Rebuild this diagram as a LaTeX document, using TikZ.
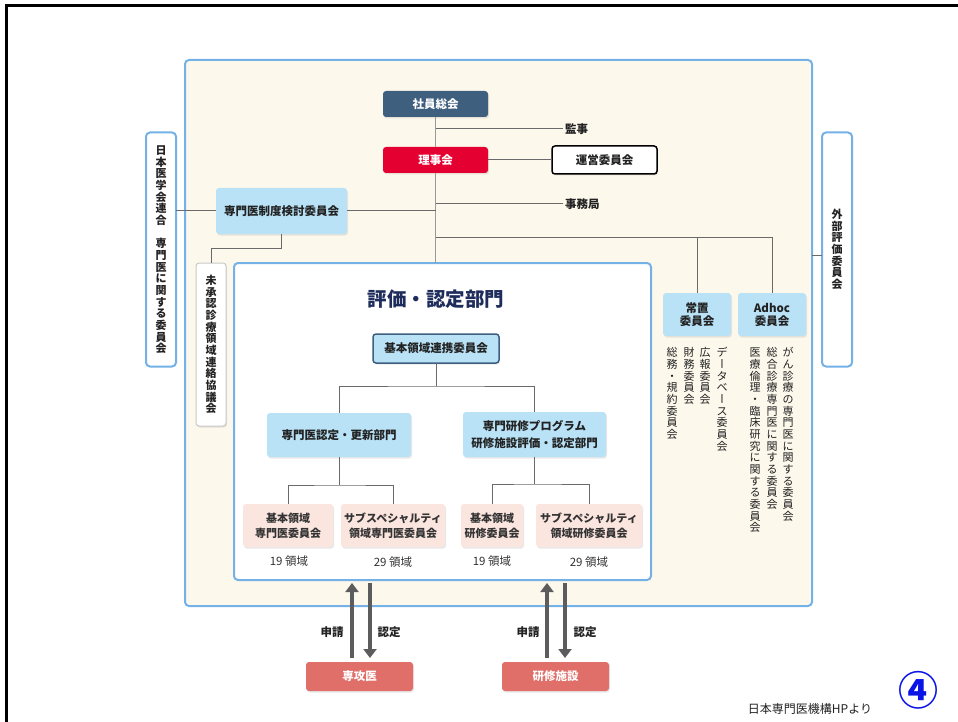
\documentclass[tikz,border=0pt]{standalone}
\usepackage{fontspec}
\setmainfont{Noto Sans CJK JP}
\usetikzlibrary{arrows.meta,shadows}
\definecolor{cream}{HTML}{FDF8EC}
\definecolor{frameblue}{HTML}{74B1E6}
\definecolor{lblue}{HTML}{B9E2F7}
\definecolor{pinkbox}{HTML}{FBE5DF}
\definecolor{slate}{HTML}{3F5F7E}
\definecolor{rijired}{HTML}{E50032}
\definecolor{salmon}{HTML}{E06E69}
\definecolor{linegray}{HTML}{6A6A6A}
\definecolor{trunkgray}{HTML}{9A9A9A}
\definecolor{boxgray}{HTML}{C8C8C8}
\definecolor{arrowgray}{HTML}{5C5C5C}
\definecolor{navy}{HTML}{1F2D5C}
\definecolor{txt}{HTML}{222222}
\definecolor{txtb}{HTML}{333333}
\definecolor{circblue}{HTML}{0A14E6}
\newcommand\vtextstop{VSTOP}
\newcommand\vtext[1]{\vbox{\offinterlineskip\vtextloop#1\vtextstop}}
\def\vtextloop#1{\ifx\vtextstop#1\else\hbox to 1em{\hss\vrule width 0pt height .9em depth .16em\relax#1\hss}\expandafter\vtextloop\fi}
\newcommand\vbar{\rotatebox[origin=c]{-90}{\hbox to 1em{\vrule width 0pt height .88em depth .12em\relax ー\hss}}}
\begin{document}
\begin{tikzpicture}[x=1pt,y=-1pt,
  every node/.style={inner sep=0pt, outer sep=0pt, text=txt},
  cbox/.style={rounded corners=3pt, align=center, font=\bfseries\fontsize{11.5}{15}\selectfont,
    drop shadow={opacity=0.18, shadow xshift=1pt, shadow yshift=-1.5pt}},
  lbox/.style={cbox, fill=lblue},
  pbox/.style={cbox, fill=pinkbox, text=txtb, font=\bfseries\fontsize{11}{15}\selectfont},
  darkbox/.style={cbox, text=white},
  bluefr/.style={draw=frameblue, line width=2pt, rounded corners=4pt},
  vfont/.style={font=\bfseries\fontsize{11}{11}\selectfont},
  conn/.style={draw=linegray, line width=1pt},
  trunk/.style={draw=trunkgray, line width=1.5pt},
  plain/.style={font=\bfseries\fontsize{11.5}{14}\selectfont},
  cnt/.style={font=\fontsize{11.5}{14}\selectfont, text=txtb},
  vlist/.style={font=\fontsize{11}{11}\selectfont, anchor=north},
  bigarrow/.style={draw=arrowgray, line width=4pt, -{Triangle[width=13pt,length=9pt]}},
]
\useasboundingbox (0,0) rectangle (958,722);
\fill[white] (0,0) rectangle (958,722);
\draw[line width=3.5pt] (6.5,722) -- (6.5,5.3) -- (958,5.3);

% containers
\node[bluefr, fill=cream, minimum width=627pt, minimum height=546pt] (outer) at (498.5,333) {};
\node[bluefr, fill=white, minimum width=417pt, minimum height=317pt] (inner) at (442.5,421.5) {};
\node[bluefr, fill=white, minimum width=30pt, minimum height=234pt, vfont] (jma) at (161,249.5) {\vtext{日本医学会連合{\ }専門医に関する委員会}};
\node[bluefr, fill=white, minimum width=30pt, minimum height=234pt, vfont] (gaibu) at (837,249.5) {\vtext{外部評価委員会}};
\node[cbox, fill=white, draw=boxgray, line width=1pt, minimum width=30pt, minimum height=163pt, vfont] (misho) at (211,344.5) {\vtext{未承認診療領域連絡協議会}};

% top part
\node[darkbox, fill=slate, minimum width=105pt, minimum height=26pt] (shain) at (435.5,104) {社員総会};
\node[darkbox, fill=rijired, minimum width=105pt, minimum height=26pt] (riji) at (435.5,160) {理事会};
\node[cbox, fill=white, draw=black, line width=1.5pt, minimum width=105pt, minimum height=28pt] (unei) at (604.5,160) {運営委員会};
\node[plain, anchor=west] (kanji) at (565,129) {監事};
\node[plain, anchor=west] (jimu) at (565,204) {事務局};
\node[lbox, minimum width=131pt, minimum height=46pt] (seido) at (281.5,211) {専門医制度検討委員会};
\node[lbox, minimum width=68pt, minimum height=43pt, font=\bfseries\fontsize{11.5}{13}\selectfont] (joti) at (697,314.5) {常置\\委員会};
\node[lbox, minimum width=68pt, minimum height=43pt, font=\bfseries\fontsize{11.5}{13}\selectfont] (adhoc) at (772,314.5) {Adhoc\\委員会};

% vertical lists
\node[vlist] (c1) at (788,347) {\vtext{がん診療の専門医に関する委員会}};
\node[vlist] (c2) at (772,347) {\vtext{総合診療専門医に関する委員会}};
\node[vlist] (c3) at (755,347) {\vtext{医療倫理・臨床研究に関する委員会}};
\node[vlist] (c4) at (722,347) {\vtext{デ\vbar タベ\vbar ス委員会}};
\node[vlist] (c5) at (705,347) {\vtext{広報委員会}};
\node[vlist] (c6) at (689,347) {\vtext{財務委員会}};
\node[vlist] (c7) at (672,347) {\vtext{総務・規約委員会}};

% inner department
\node[font=\bfseries\fontsize{19.5}{20}\selectfont, text=navy] (title) at (436,299) {評価・認定部門};
\node[lbox, draw=slate, line width=1.5pt, minimum width=126pt, minimum height=29pt] (renkei) at (436,348.5) {基本領域連携委員会};
\node[lbox, minimum width=144pt, minimum height=44pt] (nintei) at (339,435) {専門医認定・更新部門};
\node[lbox, minimum width=143pt, minimum height=45pt, font=\bfseries\fontsize{11.5}{17}\selectfont] (kenshu) at (534.5,434.5) {専門研修プログラム\\研修施設評価・認定部門};
\node[pbox, minimum width=90pt, minimum height=43pt] (p1) at (288,525.5) {基本領域\\専門医委員会};
\node[pbox, minimum width=104pt, minimum height=43pt] (p2) at (393,525.5) {サブスペシャルティ\\領域専門医委員会};
\node[pbox, minimum width=62pt, minimum height=43pt] (p3) at (492,525.5) {基本領域\\研修委員会};
\node[pbox, minimum width=106pt, minimum height=43pt] (p4) at (589,525.5) {サブスペシャルティ\\領域研修委員会};
\node[cnt] (n1) at (289,561) {19 領域};
\node[cnt] (n2) at (393,562) {29 領域};
\node[cnt] (n3) at (492,561) {19 領域};
\node[cnt] (n4) at (589,562) {29 領域};

% bottom
\node[darkbox, fill=salmon, minimum width=107pt, minimum height=29pt] (senkoi) at (359.5,676.5) {専攻医};
\node[darkbox, fill=salmon, minimum width=107pt, minimum height=29pt] (shisetsu) at (555.5,676.5) {研修施設};
\node[plain] (s1) at (332,632) {申請};
\node[plain] (r1) at (389,632) {認定};
\node[plain] (s2) at (528,632) {申請};
\node[plain] (r2) at (585,632) {認定};
\node[font=\fontsize{12}{14}\selectfont] (src) at (810,709) {日本専門医機構HPより};
\node[font=\bfseries\fontsize{40}{40}\selectfont, text=circblue] (num) at (918,690) {④};

% connectors
\draw[trunk] (shain.south) -- (riji.north);
\draw[trunk] (riji.south) -- (riji.south |- inner.north);
\draw[conn] (shain.south |- kanji.west) -- ([xshift=-2pt]kanji.west);
\draw[conn] (riji.east) -- (unei.west);
\draw[conn] (riji.south |- jimu.west) -- ([xshift=-2pt]jimu.west);
\draw[conn] (seido.east) -- (riji.south |- seido.east);
\draw[conn] (jma.east |- seido.west) -- (seido.west);
\draw[conn] (seido.south) -- ++(0,14) -| (misho.north);
\coordinate (by) at (0,237);
\draw[conn] (riji.south |- by) -| (adhoc.north);
\draw[conn] (joti.north |- by) -- (joti.north);
\coordinate (gw) at ([yshift=-6pt]gaibu.west);
\draw[conn] (gw -| outer.east) -- (gw);
\draw[conn] (renkei.south) -- ++(0,23) coordinate (rk);
\draw[conn] (nintei.north) |- (rk) -| (kenshu.north);
\draw[conn] (nintei.south) -- ++(0,28) coordinate (nk);
\draw[conn] (p1.north) |- (nk) -| (p2.north);
\draw[conn] (kenshu.south) -- ++(0,27) coordinate (kk);
\draw[conn] (p3.north) |- (kk) -| (p4.north);

% arrows
\coordinate (a1b) at (352,658); \coordinate (a1t) at (352,583);
\coordinate (a2t) at (370,583); \coordinate (a2b) at (370,658);
\coordinate (a3b) at (547,658); \coordinate (a3t) at (547,583);
\coordinate (a4t) at (565,583); \coordinate (a4b) at (565,658);
\draw[bigarrow] (a1b) -- (a1t);
\draw[bigarrow] (a2t) -- (a2b);
\draw[bigarrow] (a3b) -- (a3t);
\draw[bigarrow] (a4t) -- (a4b);
\end{tikzpicture}
\end{document}
